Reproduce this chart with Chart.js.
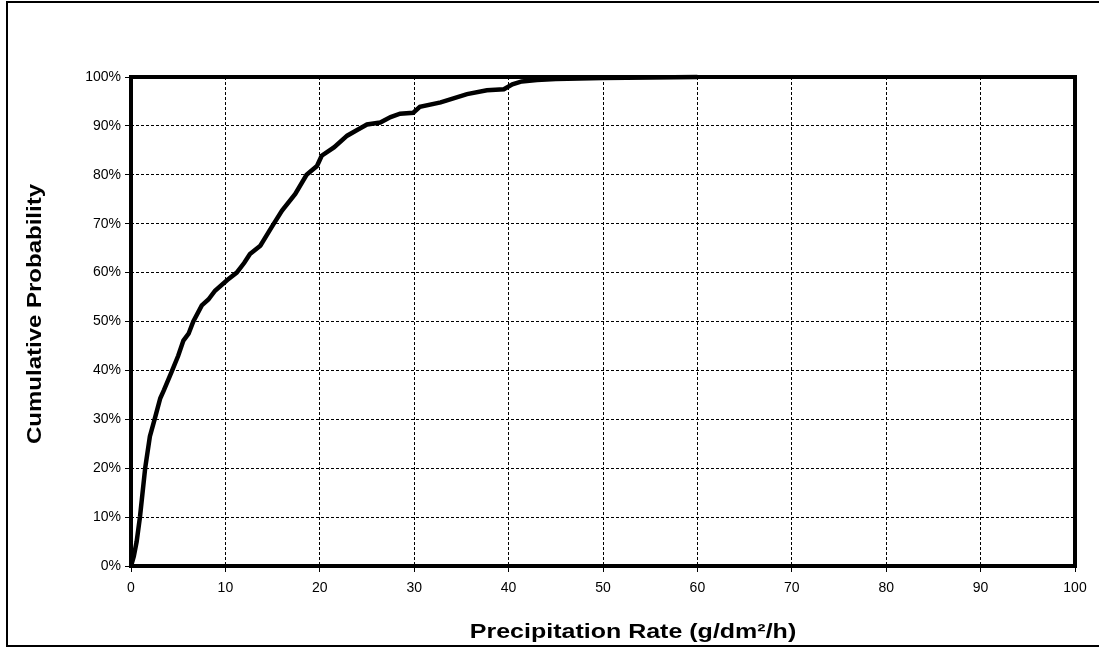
<!DOCTYPE html>
<html>
<head>
<meta charset="utf-8">
<script src="https://cdn.jsdelivr.net/npm/chart.js@4/dist/chart.umd.min.js"></script>
<style>
  html, body { margin: 0; padding: 0; background: #fff; }
  #wrap { width: 1099px; height: 648px; }
</style>
</head>
<body>
<div id="wrap"><canvas id="cdf"></canvas></div>
<script>
// precipitation rate (g/dm2/h) and cumulative probability (%)
const rates = [0, 0.3, 0.6, 0.95, 1.5, 2.0, 2.5, 3.1, 3.5, 4.3, 5.0, 5.55, 6.1, 6.6, 7.5, 8.2, 8.9,
  10.2, 11.2, 12.0, 12.6, 13.7, 14.9, 16.0, 17.4, 18.6, 19.7, 20.2, 21.5, 22.9, 24.0, 25.0,
  26.4, 27.5, 28.5, 29.9, 30.6, 32.8, 35.6, 37.7, 39.5, 40.4, 41.4, 43, 45, 50, 55, 60];
const cumProb = [0, 2, 5, 10, 20, 26.5, 30, 34.3, 36, 39.7, 43, 46.1, 47.5, 50, 53.3, 54.5, 56.3,
  58.5, 60, 62, 63.8, 65.5, 69.3, 72.7, 76.1, 80, 81.8, 83.9, 85.6, 88, 89.2, 90.3,
  90.7, 91.8, 92.5, 92.7, 93.9, 94.8, 96.5, 97.3, 97.5, 98.5, 99.1, 99.4, 99.6, 99.8, 99.9, 100];

const xTitle = "Precipitation Rate (g/dm²/h)";
const yTitle = "Cumulative Probability";

const fontFamily = "'Liberation Sans', Arial, sans-serif";

// thick plot border, outer frame and the two axis titles
const frame = {
  id: "frame",
  afterDatasetsDraw(chart) {
    const { ctx, chartArea: a } = chart;
    ctx.save();
    ctx.strokeStyle = "#000";
    ctx.lineWidth = 4;
    ctx.strokeRect(a.left, a.top, a.right - a.left, a.bottom - a.top);
    ctx.restore();
  },
  afterDraw(chart) {
    const { ctx } = chart;
    ctx.save();
    ctx.strokeStyle = "#000";
    ctx.lineWidth = 2;
    ctx.beginPath();
    ctx.moveTo(1100, 2);
    ctx.lineTo(7, 2);
    ctx.lineTo(7, 646);
    ctx.lineTo(1100, 646);
    ctx.stroke();

    ctx.fillStyle = "#000";
    ctx.textAlign = "center";
    ctx.textBaseline = "middle";

    ctx.save();
    ctx.font = "bold 25px " + fontFamily;
    ctx.translate(633, 632);
    ctx.scale(1, 0.84);
    ctx.fillText(xTitle, 0, 0);
    ctx.restore();

    ctx.save();
    ctx.font = "bold 24px " + fontFamily;
    ctx.translate(36, 314);
    ctx.rotate(-Math.PI / 2);
    ctx.scale(1, 0.82);
    ctx.fillText(yTitle, 0, 0);
    ctx.restore();

    ctx.restore();
  },
};

const tickFont = { family: fontFamily, size: 14 };

new Chart(document.getElementById("cdf"), {
  type: "line",
  data: {
    datasets: [{
      data: rates.map((r, i) => ({ x: r, y: cumProb[i] })),
      borderColor: "#000",
      borderWidth: 4.5,
      pointRadius: 0,
      tension: 0,
      fill: false,
      clip: 4,
    }],
  },
  options: {
    responsive: true,
    maintainAspectRatio: false,
    animation: false,
    layout: { padding: { top: 77, right: 24, left: 0, bottom: 0 } },
    plugins: { legend: { display: false }, tooltip: { enabled: false } },
    scales: {
      x: {
        type: "linear",
        min: 0,
        max: 100,
        ticks: { stepSize: 10, color: "#000", font: tickFont, padding: 8 },
        grid: { color: "#000", lineWidth: 1, tickLength: 6, tickColor: "#000" },
        border: { display: false, dash: [3, 2] },
        afterFit: (scale) => { scale.height = 82; },
      },
      y: {
        min: 0,
        max: 100,
        ticks: { stepSize: 10, color: "#000", font: tickFont, padding: 4,
          callback: (v) => v + "%" },
        grid: { color: "#000", lineWidth: 1, tickLength: 6, tickColor: "#000" },
        border: { display: false, dash: [3, 2] },
        afterFit: (scale) => { scale.width = 131; },
      },
    },
  },
  plugins: [frame],
});
</script>
</body>
</html>
